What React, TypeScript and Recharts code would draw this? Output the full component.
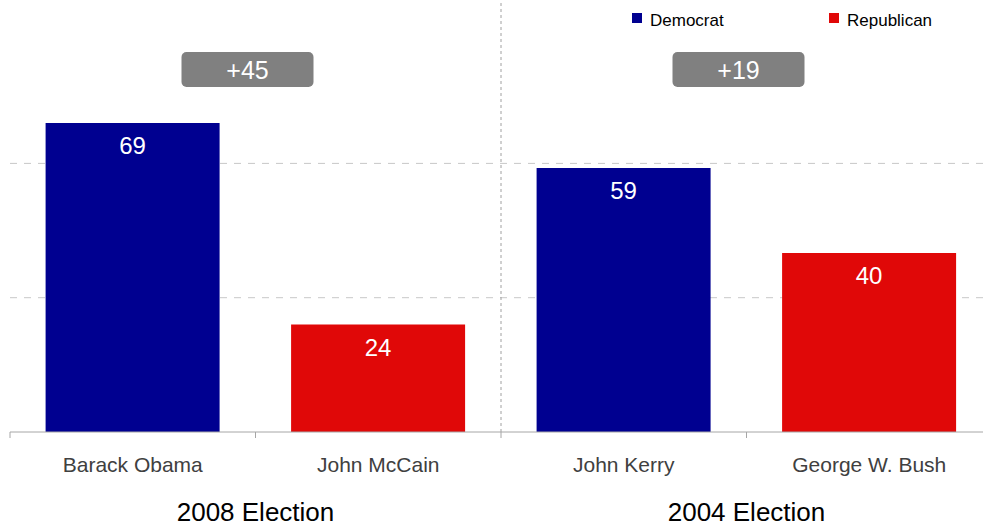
import React from "react";
import {
  BarChart,
  Bar,
  XAxis,
  YAxis,
  CartesianGrid,
  ReferenceLine,
  LabelList,
  Cell,
} from "recharts";

// ---------- data ----------
const candidates = ["Barack Obama", "John McCain", "John Kerry", "George W. Bush"];
const elections = ["2008 Election", "2008 Election", "2004 Election", "2004 Election"];
const parties = ["Democrat", "Republican", "Democrat", "Republican"];
const voteShare = [69, 24, 59, 40];
const electionGroups = ["2008 Election", "2004 Election"];
const legendParties = ["Democrat", "Republican"];
const gridValues = [30, 60];

const partyColors: Record<string, string> = {
  Democrat: "#000090",
  Republican: "#E00808",
};

const data = candidates.map((name, i) => ({
  name,
  election: elections[i],
  party: parties[i],
  value: voteShare[i],
}));

const leads = electionGroups.map((g) => {
  const rows = data.filter((d) => d.election === g);
  const dem = rows.find((r) => r.party === "Democrat")!;
  const rep = rows.find((r) => r.party === "Republican")!;
  const diff = dem.value - rep.value;
  return { group: g, anchor: dem.name, text: (diff >= 0 ? "+" : "") + diff };
});

const FONT = "'Liberation Sans', Arial, Helvetica, sans-serif";
const TICK_MARGIN = 19;
const TICK_SIZE = 6;
const MAIN = 0;
const GROUP = 1;

const CandidateTick = (props: any) => {
  const { x, y, payload } = props;
  const off = payload && typeof payload.offset === "number" ? payload.offset : 0;
  const axisY = y - TICK_SIZE - TICK_MARGIN;
  return (
    <g>
      <line x1={x - off} x2={x - off} y1={axisY} y2={axisY + TICK_SIZE} stroke="#a6a6a6" strokeWidth={1} />
      <text
        x={x}
        y={y}
        dy="0.71em"
        textAnchor="middle"
        fill="#404040"
        fontSize={21}
        fontFamily={FONT}
      >
        {payload.value}
      </text>
    </g>
  );
};

const LeadBox = (props: any) => {
  const vb = props.viewBox || {};
  const cx = (vb.x ?? 0) - 8;
  const top = (vb.y ?? 0) + 52;
  const w = 132;
  const h = 35;
  return (
    <g>
      <rect x={cx - w / 2} y={top} width={w} height={h} rx={5} ry={5} fill="#808080" />
      <text
        x={cx}
        y={top + h / 2}
        dy="0.36em"
        textAnchor="middle"
        fill="#ffffff"
        fontSize={25}
        fontFamily={FONT}
      >
        {props.text}
      </text>
    </g>
  );
};

const Legend = () => {
  const startX = 632;
  const step = 197;
  return (
    <svg width={983} height={40} style={{ position: "absolute", left: 0, top: 0 }}>
      {legendParties.map((p, i) => (
        <g key={p}>
          <rect x={startX + i * step} y={13} width={10} height={10} fill={partyColors[p]} />
          <text
            x={startX + i * step + 18}
            y={26}
            fontSize={17}
            fontFamily={FONT}
            fill="#000000"
          >
            {p}
          </text>
        </g>
      ))}
    </svg>
  );
};

export default function App() {
  return (
    <div
      style={{
        position: "absolute",
        left: 0,
        top: 0,
        width: 983,
        height: 527,
        overflow: "hidden",
        background: "#ffffff",
        fontFamily: FONT,
      }}
    >
      <BarChart
        width={992}
        height={527}
        data={data}
        margin={{ top: 0, right: 0, left: 10, bottom: 0 }}
        barCategoryGap="14.5%"
      >
        <CartesianGrid
          vertical={false}
          horizontalValues={gridValues}
          stroke="#c8c8c8"
          strokeDasharray="7 7"
          xAxisId={MAIN}
        />
        <XAxis
          xAxisId={MAIN}
          dataKey="name"
          height={50}
          axisLine={{ stroke: "#a6a6a6" }}
          tickLine={false}
          tickSize={TICK_SIZE}
          tickMargin={TICK_MARGIN}
          interval={0}
          tick={<CandidateTick />}
        />
        <XAxis
          xAxisId={GROUP}
          dataKey="election"
          allowDuplicatedCategory={false}
          height={45}
          axisLine={false}
          tickLine={false}
          tickSize={0}
          tickMargin={21}
          interval={0}
          tick={{ fontSize: 26, fill: "#000000", fontFamily: FONT }}
        />
        <YAxis hide domain={[0, 96.5]} />
        <ReferenceLine
          xAxisId={MAIN}
          x={candidates[2]}
          position="start"
          stroke="#a0a0a0"
          strokeDasharray="3 3"
        />
        {leads.map((l) => (
          <ReferenceLine
            key={l.group}
            xAxisId={MAIN}
            x={l.anchor}
            position="end"
            stroke="none"
            label={(p: any) => <LeadBox {...p} text={l.text} />}
          />
        ))}
        <Bar dataKey="value" xAxisId={MAIN} isAnimationActive={false}>
          {data.map((d) => (
            <Cell key={d.name} fill={partyColors[d.party]} />
          ))}
          <LabelList
            dataKey="value"
            position="insideTop"
            offset={14}
            fill="#ffffff"
            fontSize={24}
            fontFamily={FONT}
          />
        </Bar>
      </BarChart>
      <Legend />
    </div>
  );
}
